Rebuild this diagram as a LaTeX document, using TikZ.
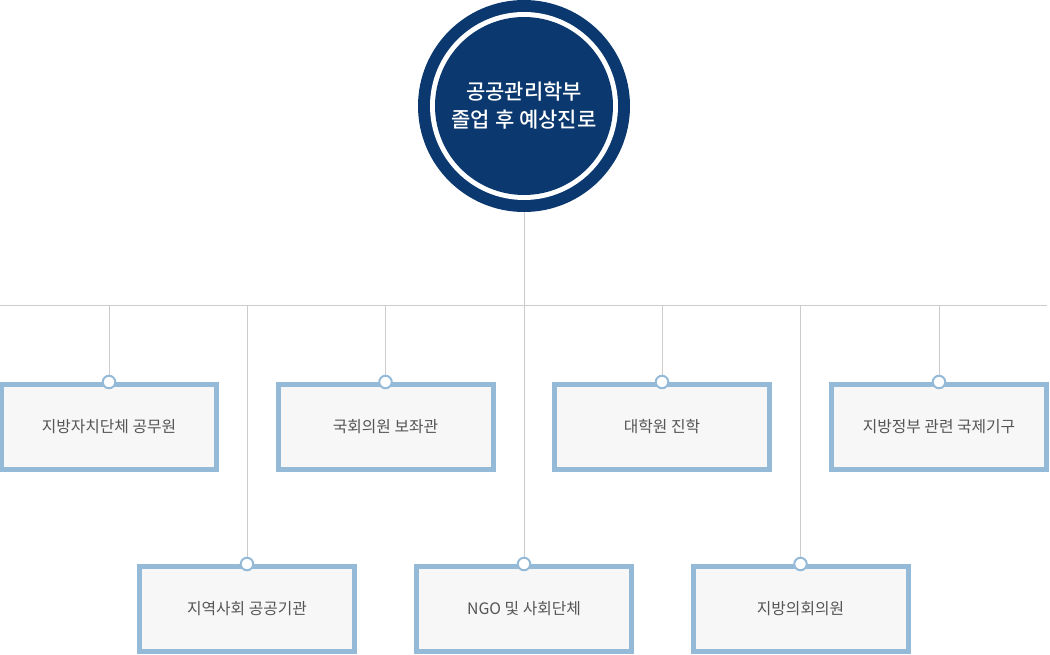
\documentclass[tikz,border=0pt]{standalone}
\usepackage{fontspec}
\setmainfont{Noto Sans CJK KR}
\newfontfamily\medfont{Noto Sans CJK KR Medium}
\usepackage{tikz}
\usetikzlibrary{positioning}
\definecolor{navy}{HTML}{0B386E}
\definecolor{boxline}{HTML}{94BAD8}
\definecolor{boxfill}{HTML}{F7F7F7}
\definecolor{linkgray}{HTML}{CCCCCC}
\definecolor{textgray}{HTML}{555555}

\begin{document}
\begin{tikzpicture}[x=1pt, y=-1pt,
    career/.style={draw=boxline, fill=boxfill, line width=5pt, minimum width=215pt,
      minimum height=85pt, inner sep=0pt, text=textgray, font=\fontsize{15.8}{18}\selectfont},
    link/.style={draw=linkgray, line width=1pt},
    pin/.style={circle, draw=boxline, fill=white, line width=2pt, minimum size=12.5pt, inner sep=0pt}]
      \useasboundingbox (0,0) rectangle (1050,655);
      \node[circle, fill=navy, minimum size=212pt, inner sep=0pt] (halo) at (524,106) {};
      \node[circle, fill=white, minimum size=188pt, inner sep=0pt] at (halo) {};
      \node[circle, fill=navy, minimum size=178pt, inner sep=0pt, text=white, align=center,
        font=\medfont\fontsize{21}{28}\selectfont] (major) at (halo) {공공관리학부\\졸업 후 예상진로};
      \coordinate (railL) at (0,305);
      \coordinate (railR) at (1047,305);
      \node[career] (civil) at (109,427) {지방자치단체 공무원};
      \node[career] (aide) at (385.5,427) {국회의원 보좌관};
      \node[career] (grad) at (662,427) {대학원 진학};
      \node[career] (intl) at (939,427) {지방정부 관련 국제기구};
      \node[career] (commun) at (247,609) {지역사회 공공기관};
      \node[career] (ngo) at (524,609) {NGO 및 사회단체};
      \node[career] (council) at (800.5,609) {지방의회의원};
      \draw[link] (railL) -- (railR);
      \draw[link] (halo.south) -- (ngo.north);
      \draw[link] (civil.north |- railL) -- (civil.north);
      \draw[link] (aide.north |- railL) -- (aide.north);
      \draw[link] (grad.north |- railL) -- (grad.north);
      \draw[link] (intl.north |- railL) -- (intl.north);
      \draw[link] (commun.north |- railL) -- (commun.north);
      \draw[link] (council.north |- railL) -- (council.north);
      \node[pin] at (civil.north) {};
      \node[pin] at (aide.north) {};
      \node[pin] at (grad.north) {};
      \node[pin] at (intl.north) {};
      \node[pin] at (commun.north) {};
      \node[pin] at (ngo.north) {};
      \node[pin] at (council.north) {};
\end{tikzpicture}
\end{document}
